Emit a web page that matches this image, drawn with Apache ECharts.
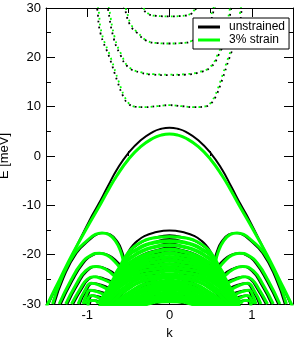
<!DOCTYPE html>
<html>
<head>
<meta charset="utf-8">
<script src="https://cdn.jsdelivr.net/npm/echarts@6/dist/echarts.min.js"></script>
<style>
html,body{margin:0;padding:0;background:#fff;}
#chart{width:300px;height:337px;}
</style>
</head>
<body>
<div id="chart"></div>
<script>
// ---- data (left half k<=0; the band structure is symmetric in k) ----
const seriesNames = ['unstrained', '3% strain'];
const xTickLabels = [-1, 0, 1];
const xMinorTicks = [-0.5, 0.5];
const yRange = [-30, 30];

// top valence band [k, E]
const unstrainedTopBand = [[-1.5,-31.5],[-1.47,-30],[-1.32,-24.8],[-1.17,-19.7],[-0.97,-13.0],[-0.87,-10.0],[-0.75,-6.2],[-0.64,-2.8],[-0.5,0.6],[-0.35,3.2],[-0.2,4.9],[-0.1,5.52],[0,5.74]];
const strainTopBand = [[-1.5,-31.0],[-1.48,-30],[-1.33,-24.9],[-1.18,-19.9],[-0.97,-13.6],[-0.87,-10.7],[-0.75,-7.1],[-0.64,-4.0],[-0.5,-0.7],[-0.35,1.9],[-0.2,3.6],[-0.1,4.24],[0,4.46]];

// side lobes (outer part of the lower bands), from E=-30 up to the cusp
const unstrainedSideLobes = [
  [[-1.40,-30],[-1.29,-24.8],[-1.13,-19.7],[-0.97,-17.0],[-0.88,-15.9],[-0.80,-15.6],[-0.72,-15.9],[-0.63,-17.4],[-0.575,-19.4],[-0.545,-21.1]],
  [[-1.32,-30],[-1.18,-25.3],[-1.05,-21.8],[-0.94,-20.2],[-0.83,-19.7],[-0.74,-20.1],[-0.65,-21.2],[-0.585,-22.4]],
  [[-1.24,-30],[-1.12,-26.2],[-1.0,-23.3],[-0.87,-22.4],[-0.76,-22.9],[-0.65,-24.1]],
  [[-1.17,-30],[-1.06,-26.8],[-0.98,-25.0],[-0.90,-24.5],[-0.80,-24.8],[-0.69,-25.5]],
  [[-1.09,-30],[-1.01,-27.3],[-0.93,-25.8],[-0.83,-26.1],[-0.73,-26.8]],
  [[-1.03,-30],[-0.99,-28.2],[-0.95,-27.2],[-0.86,-27.4],[-0.77,-27.9]],
  [[-1.0,-30],[-0.97,-28.9],[-0.93,-28.3],[-0.87,-28.4],[-0.81,-28.8]],
  [[-0.97,-30.5],[-0.94,-29.3],[-0.89,-29.3],[-0.85,-29.6]]
];
const strainSideLobes = [
  [[-1.42,-30],[-1.31,-24.8],[-1.15,-19.7],[-0.99,-17.0],[-0.9,-15.9],[-0.82,-15.6],[-0.74,-15.9],[-0.65,-17.4],[-0.59,-19.5],[-0.56,-21.4]],
  [[-1.34,-30],[-1.2,-25.3],[-1.07,-21.8],[-0.96,-20.2],[-0.85,-19.7],[-0.76,-20.1],[-0.67,-21.3],[-0.6,-22.7]],
  [[-1.26,-30],[-1.14,-26.2],[-1.02,-23.3],[-0.89,-22.4],[-0.78,-22.9],[-0.665,-24.4]],
  [[-1.19,-30],[-1.08,-26.8],[-1.0,-25.0],[-0.92,-24.5],[-0.82,-24.9],[-0.705,-25.8]],
  [[-1.11,-30],[-1.03,-27.3],[-0.95,-25.8],[-0.85,-26.2],[-0.745,-27.1]],
  [[-1.05,-30],[-1.01,-28.2],[-0.97,-27.2],[-0.88,-27.5],[-0.785,-28.2]],
  [[-1.02,-30],[-0.99,-28.9],[-0.95,-28.3],[-0.89,-28.5],[-0.825,-29.1]],
  [[-0.99,-30.5],[-0.96,-29.3],[-0.91,-29.3],[-0.865,-29.9]]
];

// central dome arcs, from the cusp (or E<=-30) up to k=0
const unstrainedDomeArcs = [
  [[-0.545,-21.1],[-0.5,-19.4],[-0.45,-18.2],[-0.39,-17.2],[-0.3,-16.2],[-0.2,-15.6],[0,-15.1]],
  [[-0.585,-22.4],[-0.54,-20.6],[-0.48,-19.3],[-0.4,-18.2],[-0.3,-17.2],[-0.2,-16.6],[0,-16.0]],
  [[-0.65,-24.1],[-0.6,-22.4],[-0.53,-20.9],[-0.45,-19.6],[-0.35,-18.5],[-0.2,-17.5],[0,-16.8]],
  [[-0.69,-25.5],[-0.63,-23.6],[-0.55,-21.9],[-0.45,-20.5],[-0.3,-19.1],[-0.15,-18.2],[0,-17.7]],
  [[-0.73,-26.8],[-0.66,-24.7],[-0.58,-23.0],[-0.48,-21.5],[-0.32,-19.9],[-0.15,-19.0],[0,-18.5]],
  [[-0.77,-27.9],[-0.7,-25.9],[-0.61,-24.0],[-0.5,-22.3],[-0.33,-20.6],[-0.15,-19.7],[0,-19.2]],
  [[-0.81,-28.8],[-0.74,-26.9],[-0.65,-25.0],[-0.53,-23.1],[-0.35,-21.3],[-0.15,-20.4],[0,-19.9]],
  [[-0.85,-29.6],[-0.78,-27.8],[-0.68,-25.8],[-0.55,-23.9],[-0.37,-22.0],[-0.15,-21.1],[0,-20.6]],
  [[-0.86,-30.5],[-0.8,-28.6],[-0.7,-26.6],[-0.57,-24.6],[-0.38,-22.7],[-0.15,-21.8],[0,-21.3]],
  [[-0.85,-31],[-0.79,-29.2],[-0.7,-27.3],[-0.57,-25.3],[-0.38,-23.4],[-0.15,-22.5],[0,-22.0]],
  [[-0.83,-31],[-0.77,-29.7],[-0.68,-27.8],[-0.55,-25.9],[-0.37,-24.0],[-0.15,-23.2],[0,-22.7]],
  [[-0.8,-31],[-0.74,-29.9],[-0.65,-28.2],[-0.52,-26.3],[-0.35,-24.6],[-0.15,-23.8],[0,-23.3]],
  [[-0.76,-31],[-0.7,-30],[-0.6,-28.4],[-0.48,-26.8],[-0.32,-25.2],[-0.15,-24.5],[0,-24.0]],
  [[-0.72,-31],[-0.66,-30],[-0.56,-28.6],[-0.45,-27.2],[-0.3,-25.8],[-0.15,-25.1],[0,-24.6]],
  [[-0.68,-31],[-0.62,-30],[-0.52,-28.8],[-0.42,-27.6],[-0.28,-26.3],[-0.14,-25.6],[0,-25.2]],
  [[-0.63,-31],[-0.57,-30],[-0.48,-29],[-0.38,-27.9],[-0.25,-26.8],[-0.12,-26.1],[0,-25.8]],
  [[-0.58,-31],[-0.52,-30],[-0.43,-29.1],[-0.33,-28.1],[-0.22,-27.2],[-0.11,-26.7],[0,-26.4]],
  [[-0.53,-31],[-0.47,-30],[-0.38,-29.2],[-0.28,-28.3],[-0.18,-27.6],[0,-27.0]],
  [[-0.47,-31],[-0.41,-30],[-0.32,-29.3],[-0.22,-28.5],[-0.12,-27.9],[0,-27.6]],
  [[-0.4,-31],[-0.34,-30],[-0.25,-29.3],[-0.15,-28.7],[0,-28.2]],
  [[-0.32,-31],[-0.26,-30],[-0.16,-29.3],[0,-28.8]],
  [[-0.24,-31],[-0.17,-30],[-0.08,-29.6],[0,-29.4]]
];
const strainDomeArcs = [
  [[-0.56,-21.4],[-0.515,-19.9],[-0.46,-18.8],[-0.39,-17.9],[-0.3,-17.1],[-0.2,-16.6],[0,-16.35]],
  [[-0.6,-22.7],[-0.555,-21.1],[-0.49,-19.9],[-0.4,-19.0],[-0.3,-18.1],[-0.2,-17.6],[0,-17.25]],
  [[-0.665,-24.4],[-0.615,-22.9],[-0.54,-21.5],[-0.45,-20.4],[-0.35,-19.4],[-0.2,-18.5],[0,-18.05]],
  [[-0.705,-25.8],[-0.645,-24.1],[-0.56,-22.5],[-0.45,-21.3],[-0.3,-20.0],[-0.15,-19.3],[0,-18.95]],
  [[-0.745,-27.1],[-0.675,-25.2],[-0.59,-23.6],[-0.48,-22.3],[-0.32,-20.8],[-0.15,-20.1],[0,-19.75]],
  [[-0.785,-28.2],[-0.715,-26.4],[-0.62,-24.6],[-0.5,-23.1],[-0.33,-21.5],[-0.15,-20.8],[0,-20.45]],
  [[-0.825,-29.1],[-0.755,-27.4],[-0.66,-25.6],[-0.53,-23.9],[-0.35,-22.2],[-0.15,-21.5],[0,-21.15]],
  [[-0.865,-29.9],[-0.795,-28.3],[-0.69,-26.4],[-0.55,-24.7],[-0.37,-22.9],[-0.15,-22.2],[0,-21.85]],
  [[-0.86,-31.1],[-0.8,-29.1],[-0.7,-27.2],[-0.57,-25.4],[-0.38,-23.6],[-0.15,-22.9],[0,-22.55]],
  [[-0.85,-31.6],[-0.79,-29.7],[-0.7,-27.9],[-0.57,-26.1],[-0.38,-24.3],[-0.15,-23.6],[0,-23.25]],
  [[-0.83,-31.6],[-0.77,-30.2],[-0.68,-28.4],[-0.55,-26.7],[-0.37,-24.9],[-0.15,-24.3],[0,-23.95]],
  [[-0.8,-31.6],[-0.74,-30.4],[-0.65,-28.8],[-0.52,-27.1],[-0.35,-25.5],[-0.15,-24.9],[0,-24.55]],
  [[-0.76,-31.6],[-0.7,-30.5],[-0.6,-29.0],[-0.48,-27.6],[-0.32,-26.1],[-0.15,-25.6],[0,-25.25]],
  [[-0.72,-31.6],[-0.66,-30.5],[-0.56,-29.2],[-0.45,-28.0],[-0.3,-26.7],[-0.15,-26.2],[0,-25.85]],
  [[-0.68,-31.6],[-0.62,-30.5],[-0.52,-29.4],[-0.42,-28.4],[-0.28,-27.2],[-0.14,-26.7],[0,-26.45]],
  [[-0.63,-31.6],[-0.57,-30.5],[-0.48,-29.6],[-0.38,-28.7],[-0.25,-27.7],[-0.12,-27.2],[0,-27.05]],
  [[-0.58,-31.6],[-0.52,-30.5],[-0.43,-29.7],[-0.33,-28.9],[-0.22,-28.1],[-0.11,-27.8],[0,-27.65]],
  [[-0.53,-31.6],[-0.47,-30.5],[-0.38,-29.8],[-0.28,-29.1],[-0.18,-28.6],[0,-28.25]],
  [[-0.47,-31.6],[-0.41,-30.5],[-0.32,-29.9],[-0.22,-29.3],[-0.12,-29.0],[0,-28.85]],
  [[-0.4,-31.6],[-0.34,-30.5],[-0.25,-29.9],[-0.15,-29.5],[0,-29.45]]
];

// conduction subbands (dotted)
const unstrainedConductionBands = [
  [[-0.9,31],[-0.88,30],[-0.84,25],[-0.73,20],[-0.63,15],[-0.56,12],[-0.5,10.6],[-0.42,10.0],[-0.3,9.9],[-0.15,10.1],[0,10.3]],
  [[-0.76,31],[-0.75,30],[-0.68,24],[-0.6,20.6],[-0.5,18.0],[-0.35,16.9],[-0.2,16.5],[0,16.4]],
  [[-0.56,30.5],[-0.54,29.6],[-0.48,26.6],[-0.39,24.9],[-0.27,23.3],[-0.15,22.9],[0,22.8]],
  [[-0.34,30.5],[-0.27,28.9],[-0.15,28.4],[0,28.3]]
];
const strainConductionBands = [
  [[-0.885,31],[-0.865,30],[-0.825,25],[-0.715,20],[-0.615,15],[-0.545,12],[-0.49,10.6],[-0.41,10.0],[-0.3,9.9],[-0.15,10.1],[0,10.3]],
  [[-0.745,31],[-0.735,30],[-0.665,24],[-0.585,20.6],[-0.49,18.0],[-0.35,17.0],[-0.2,16.6],[0,16.5]],
  [[-0.545,30.5],[-0.525,29.6],[-0.465,26.6],[-0.38,24.9],[-0.265,23.3],[-0.15,22.9],[0,22.8]],
  [[-0.33,30.5],[-0.26,28.9],[-0.15,28.4],[0,28.3]]
];

// ---- build ----
const BLACK = '#000000', GREEN = '#00ff00';
const FONT = 'Liberation Sans, Arial, Helvetica, sans-serif';
const fullBand = half => half.concat(half.slice(0, -1).reverse().map(p => [-p[0], p[1]]));
const mirrorSeg = seg => seg.slice().reverse().map(p => [-p[0], p[1]]);

function line(name, color, width, data, dotted, offset, z) {
  return {
    type: 'line', name: name, data: data, xAxisIndex: 0, yAxisIndex: 0,
    symbol: 'none', showSymbol: false, smooth: 0.5,
    color: color, itemStyle: {color: color},
    lineStyle: dotted ? {color: color, width: 1.8, type: [1.8, 4.2], dashOffset: offset, cap: 'butt'}
                      : {color: color, width: width, type: 'solid', join: 'round'},
    silent: true, animation: false, z: z, clip: true
  };
}

const series = [];
function addSet(name, color, width, domeWidth, top, lobes, domes, cond, offset, z) {
  series.push(line(name, color, width, fullBand(top), false, 0, z));
  lobes.forEach(l => { series.push(line(name, color, width, l, false, 0, z)); series.push(line(name, color, width, mirrorSeg(l), false, 0, z)); });
  domes.forEach((d, i) => series.push(line(name, color, i === 0 ? width : domeWidth, fullBand(d), false, 0, z)));
  cond.forEach(c => series.push(line(name, color, 2, fullBand(c), true, offset, z)));
}
addSet(seriesNames[0], BLACK, 2, 1.6, unstrainedTopBand, unstrainedSideLobes, unstrainedDomeArcs, unstrainedConductionBands, 0, 2);
addSet(seriesNames[1], GREEN, 3, 3.8, strainTopBand, strainSideLobes, strainDomeArcs, strainConductionBands, 3, 3);

const axisLine = {show: true, onZero: false, lineStyle: {color: BLACK, width: 1}};
const xBase = {type: 'value', min: -1.5, max: 1.5, splitLine: {show: false}, axisPointer: {show: false}};
const option = {
  animation: false,
  backgroundColor: '#ffffff',
  grid: [
    {left: 46, right: 7, top: 8, bottom: 33, outerBoundsMode: 'none'},
    {left: 46, right: 7, top: 8, bottom: 33, outerBoundsMode: 'none'}
  ],
  xAxis: [
    Object.assign({}, xBase, {gridIndex: 0, position: 'bottom', axisLine: axisLine,
      axisTick: {show: true, inside: true, length: 9, customValues: xTickLabels, lineStyle: {color: BLACK, width: 1}},
      axisLabel: {show: true, customValues: xTickLabels, color: BLACK, fontSize: 13, fontFamily: FONT, margin: 5},
      name: 'k', nameLocation: 'middle', nameGap: 19, nameTextStyle: {color: BLACK, fontSize: 13, fontFamily: FONT}}),
    Object.assign({}, xBase, {gridIndex: 0, position: 'top', axisLine: axisLine,
      axisTick: {show: true, inside: true, length: 9, customValues: xTickLabels, lineStyle: {color: BLACK, width: 1}},
      axisLabel: {show: false}}),
    Object.assign({}, xBase, {gridIndex: 1, position: 'bottom', axisLine: {show: false},
      axisTick: {show: true, inside: true, length: 5, customValues: xMinorTicks, lineStyle: {color: BLACK, width: 1}},
      axisLabel: {show: false}}),
    Object.assign({}, xBase, {gridIndex: 1, position: 'top', axisLine: {show: false},
      axisTick: {show: true, inside: true, length: 5, customValues: xMinorTicks, lineStyle: {color: BLACK, width: 1}},
      axisLabel: {show: false}})
  ],
  yAxis: [
    {gridIndex: 0, type: 'value', min: yRange[0], max: yRange[1], interval: 10, position: 'left',
      axisLine: axisLine, splitLine: {show: false},
      axisTick: {show: true, inside: true, length: 9, lineStyle: {color: BLACK, width: 1}},
      minorTick: {show: true, splitNumber: 2, length: 5, lineStyle: {color: BLACK, width: 1}},
      axisLabel: {color: BLACK, fontSize: 13, fontFamily: FONT, margin: 5},
      name: 'E [meV]', nameLocation: 'middle', nameGap: 30, nameRotate: 90,
      nameTextStyle: {color: BLACK, fontSize: 13, fontFamily: FONT}},
    {gridIndex: 0, type: 'value', min: yRange[0], max: yRange[1], interval: 10, position: 'right',
      axisLine: axisLine, splitLine: {show: false},
      axisTick: {show: true, inside: true, length: 9, lineStyle: {color: BLACK, width: 1}},
      minorTick: {show: true, splitNumber: 2, length: 5, lineStyle: {color: BLACK, width: 1}},
      axisLabel: {show: false}},
    {gridIndex: 1, type: 'value', min: yRange[0], max: yRange[1], show: false, splitLine: {show: false}}
  ],
  legend: {
    data: [{name: seriesNames[0], icon: 'rect'}, {name: seriesNames[1], icon: 'rect'}],
    orient: 'vertical', left: 193, top: 18,
    itemWidth: 22, itemHeight: 3, itemGap: 1,
    padding: [3, 4, 3, 5],
    backgroundColor: '#ffffff', borderColor: BLACK, borderWidth: 1, borderRadius: 0,
    textStyle: {color: BLACK, fontSize: 12, fontFamily: FONT, padding: [0, 0, 0, 4]},
    selectedMode: false, z: 10
  },
  series: series
};
const chart = echarts.init(document.getElementById('chart'), null, {renderer: 'canvas'});
chart.setOption(option);
</script>
</body>
</html>
